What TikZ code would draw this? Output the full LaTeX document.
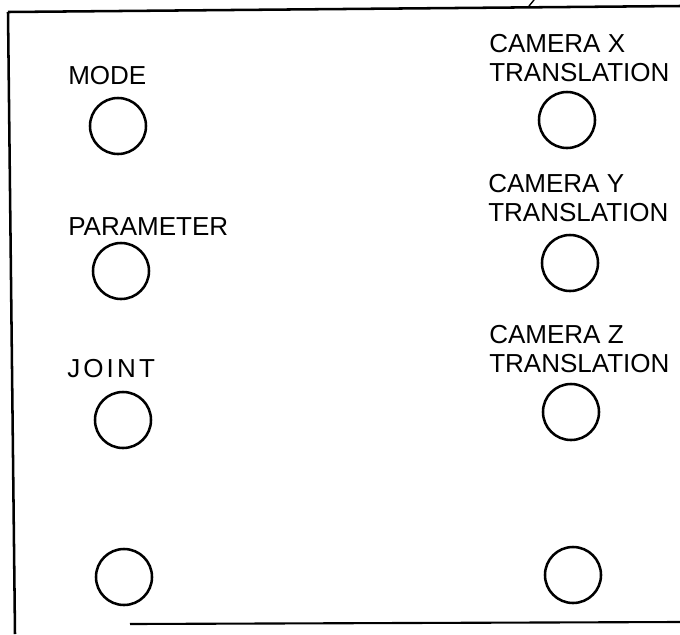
\documentclass[tikz,border=0pt]{standalone}
\usepackage{fontspec}
\setmainfont{Liberation Sans}

\begin{document}
\begin{tikzpicture}[x=0.025cm, y=-0.025cm,
	knopf/.style={draw, line width=1.8pt, circle, minimum size=1.4cm, inner sep=0pt},
	beschriftung/.style={font=\fontsize{18.5}{20}\selectfont, inner sep=0pt, anchor=west, align=left}]
%\draw [lightgray](0,0) grid (680,634);
\useasboundingbox (0,0) rectangle (680,634);

	% Zeichnet den Rahmen des Bedienfeldes (oben, links, unten)
	\draw[line width=1.8pt] (8,12) -- (680,6);
	\draw[line width=1.8pt] (8,12) -- (15,634);
	\draw[line width=1.5pt] (130,624) -- (680,622);
	
	% Zeichnet den kleinen Strich am oberen Rand
	\draw[line width=1pt] (529,6) -- (534,0);
	
	% Zeichnet die linke Spalte: Beschriftung und Knopf
	\node[beschriftung] (modus_text) at (68,76) {MODE};
	\node[knopf] (modus) at (118,126) {};
	
	\node[beschriftung] (parameter_text) at (68,227) {PARAMETER};
	\node[knopf] (parameter) at (121,271) {};
	
	\node[beschriftung, font=\fontsize{18.5}{20}\selectfont\addfontfeature{LetterSpace=12}] (gelenk_text) at (67,369) {JOINT};
	\node[knopf] (gelenk) at (123,420) {};
	
	% Knopf ohne Beschriftung unten links
	\node[knopf] (leer_links) at (124,577) {};
	
	% Zeichnet die rechte Spalte: Kamera-Verschiebungen
	\node[beschriftung] (kamera_x_text) at (489,58) {CAMERA X\\TRANSLATION};
	\node[knopf] (kamera_x) at (567,120) {};
	
	\node[beschriftung] (kamera_y_text) at (488,198) {CAMERA Y\\TRANSLATION};
	\node[knopf] (kamera_y) at (570,263) {};
	
	\node[beschriftung] (kamera_z_text) at (489,349) {CAMERA Z\\TRANSLATION};
	\node[knopf] (kamera_z) at (571,412) {};
	
	% Knopf ohne Beschriftung unten rechts
	\node[knopf] (leer_rechts) at (573,575) {};
	
\end{tikzpicture}
\end{document}
